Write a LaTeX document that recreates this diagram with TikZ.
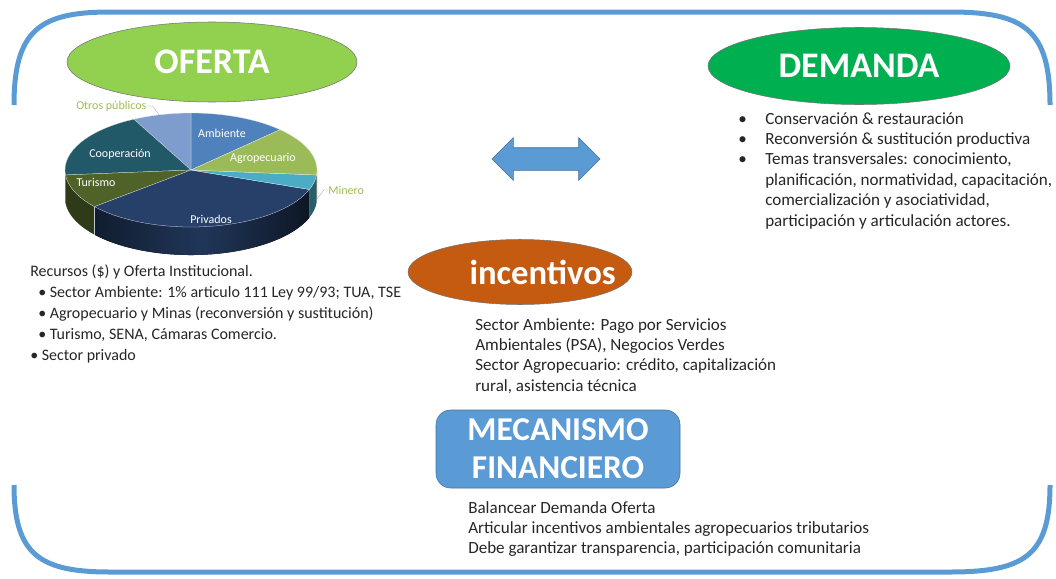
\documentclass[tikz,border=0pt]{standalone}
\usepackage{fontspec}
\setmainfont{Carlito}
\usetikzlibrary{shapes.geometric,shapes.arrows,positioning}

\definecolor{marco}{RGB}{91,155,213}
\definecolor{marcoosc}{RGB}{65,113,156}
\definecolor{verdeof}{RGB}{146,208,80}
\definecolor{verdedem}{RGB}{0,176,80}
\definecolor{naranja}{RGB}{197,90,17}
\definecolor{ambiente}{RGB}{79,129,189}
\definecolor{agro}{RGB}{155,187,89}
\definecolor{minero}{RGB}{75,172,198}
\definecolor{privados}{RGB}{38,64,105}
\definecolor{turismo}{RGB}{79,98,40}
\definecolor{coop}{RGB}{33,89,104}
\definecolor{otros}{RGB}{126,156,206}
\definecolor{texto}{RGB}{38,38,38}

\begin{document}
\begin{tikzpicture}[x=0.75pt,y=-0.75pt,
    titulo/.style={ellipse, draw=black!55, thin, text=white, inner sep=0pt, font=\bfseries\fontsize{27}{30}\selectfont},
    bloque/.style={anchor=north west, align=left, inner sep=0pt, text=texto, font=\fontsize{12.8}{15.3}\selectfont},
    etiq/.style={text=white, inner sep=0pt, font=\fontsize{9}{10}\selectfont},
    fuera/.style={text=agro, inner sep=0pt, font=\fontsize{9}{10}\selectfont}]
    \useasboundingbox (0,0) rectangle (1056,578);
    % marco
    \draw[marco, line width=3.75pt] (14,105) .. controls (14,30) and (40,12) .. (110,12) -- (950,12) .. controls (1025,12) and (1050,30) .. (1050,105);
    \draw[marco, line width=3.75pt] (14,485) .. controls (14,555) and (40,572) .. (110,572) -- (950,572) .. controls (1025,572) and (1050,555) .. (1050,485);
    % titulos
    \node[titulo, fill=verdeof, minimum width=217.5pt, minimum height=60pt] (oferta) at (212,62) {OFERTA};
    \node[titulo, fill=verdedem, minimum width=226.5pt, minimum height=57.75pt] (demanda) at (859,66) {DEMANDA};
    \node[titulo, fill=naranja, minimum width=168pt, minimum height=48.75pt] (incent) at (520,272) {};
    \node[text=white, inner sep=0pt, font=\bfseries\fontsize{26}{28}\selectfont] (incent-txt) at ([xshift=17pt]incent.center) {incentivos};
    \node[rectangle, rounded corners=11pt, fill=marco, draw=marcoosc, thin, text=white, align=center, minimum width=183pt, minimum height=58.5pt, inner sep=0pt, font=\bfseries\fontsize{25}{28.5}\selectfont] (mecanismo) at (558,449) {MECANISMO\\FINANCIERO};
    \node[double arrow, fill=marco, draw=marcoosc, thin, inner sep=8.25pt, minimum height=81pt, double arrow head extend=7.5pt] (flecha) at (546,159) {};
    % pastel
    \begin{scope}[shift={(191,170)}, yscale=-1]
        \fill[turismo!60!black] (185:126 and 57) arc[start angle=185, end angle=220, x radius=126, y radius=57] -- ++(0,-28) arc[start angle=220, end angle=185, x radius=126, y radius=57] -- cycle;
        \fill[left color=privados!45!black, right color=privados!35!black, middle color=privados!85!black] (220:126 and 57) arc[start angle=220, end angle=340, x radius=126, y radius=57] -- ++(0,-28) arc[start angle=340, end angle=220, x radius=126, y radius=57] -- cycle;
        \fill[minero!55!black] (340:126 and 57) arc[start angle=340, end angle=355, x radius=126, y radius=57] -- ++(0,-28) arc[start angle=355, end angle=340, x radius=126, y radius=57] -- cycle;
        \fill[agro!55!black] (355:126 and 57) arc[start angle=355, end angle=360, x radius=126, y radius=57] -- ++(0,-28) arc[start angle=360, end angle=355, x radius=126, y radius=57] -- cycle;
        \draw[white!70!privados, very thin] (220:126 and 57) -- ++(0,-28);
        \foreach \a/\b/\c in {45/90/ambiente, 90/117/otros, 117/185/coop, 185/220/turismo, 220/340/privados, 340/355/minero, -5/45/agro}
            {\filldraw[fill=\c, draw=white!80!\c, very thin] (0,0) -- (\a:126 and 57) arc[start angle=\a, end angle=\b, x radius=126, y radius=57] -- cycle;}
    \end{scope}
    \node[etiq] (l-amb) at (222,133) {Ambiente};
    \node[etiq] (l-agro) at (263,158) {Agropecuario};
    \node[etiq] (l-coop) at (120,154) {Cooperación};
    \node[etiq] (l-tur) at (96,182) {Turismo};
    \node[etiq] (l-priv) at (211,219) {Privados};
    \node[fuera, anchor=west] (l-otros) at (76,106) {Otros públicos};
    \node[fuera, anchor=west] (l-min) at (328,190) {Minero};
    \draw[black!40, very thin] (l-otros.east) -- ++(6,0) -- (160,116);
    \draw[black!40, very thin] (l-min.west) -- ++(-4,0) -- (316,200);
    % textos
    \node[bloque, font=\fontsize{12}{15.6}\selectfont] (recursos) at (30,265) {Recursos (\$) y Oferta Institucional.\\
        \hspace*{6pt}• Sector Ambiente: 1\% articulo 111 Ley 99/93; TUA, TSE\\
        \hspace*{6pt}• Agropecuario y Minas (reconversión y sustitución)\\
        \hspace*{6pt}• Turismo, SENA, Cámaras Comercio.\\
        • Sector privado};
    \node[bloque] (temas) at (738,112) {\makebox[20.25pt][l]{•}Conservación \& restauración\\
        \makebox[20.25pt][l]{•}Reconversión \& sustitución productiva\\
        \makebox[20.25pt][l]{•}Temas transversales: conocimiento,\\
        \hspace*{20.25pt}planificación, normatividad, capacitación,\\
        \hspace*{20.25pt}comercialización y asociatividad,\\
        \hspace*{20.25pt}participación y articulación actores.};
    \node[bloque] (sectores) at (475,318) {Sector Ambiente: Pago por Servicios\\
        Ambientales (PSA), Negocios Verdes\\
        Sector Agropecuario: crédito, capitalización\\
        rural, asistencia técnica};
    \node[bloque] (balance) at (468,501) {Balancear Demanda Oferta\\
        Articular incentivos ambientales agropecuarios tributarios\\
        Debe garantizar transparencia, participación comunitaria};
\end{tikzpicture}
\end{document}
